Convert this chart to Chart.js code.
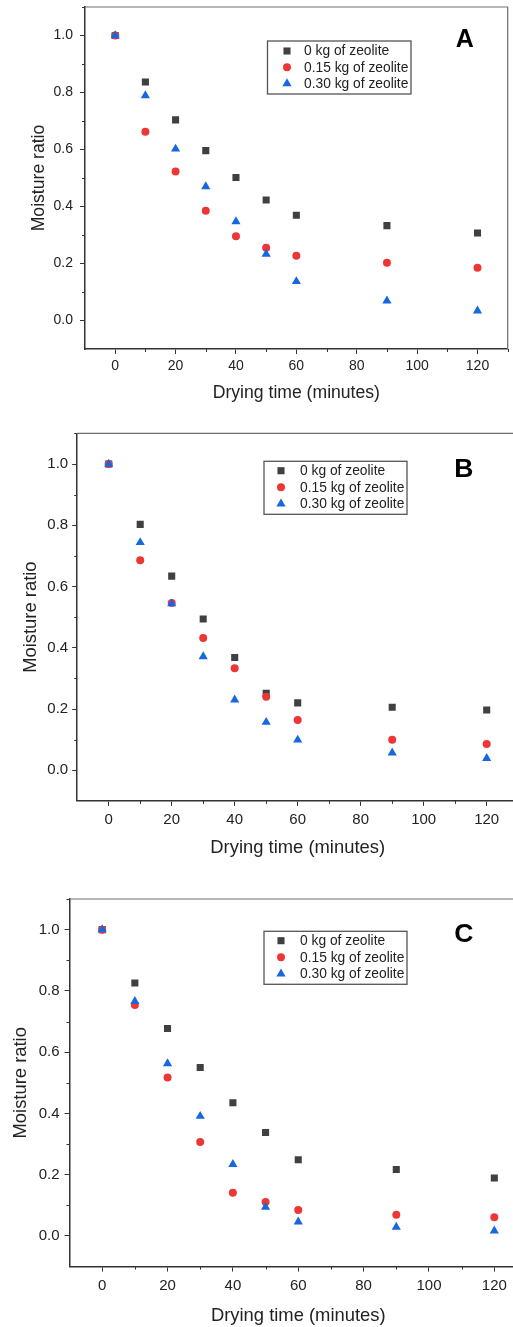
<!DOCTYPE html>
<html lang="en">
<head>
  <meta charset="UTF-8">
  <title>Moisture ratio vs drying time</title>
  <script src="https://cdn.jsdelivr.net/npm/chart.js"></script>
  <style>
    body {
      margin: 0;
      width: 513px;
      height: 1327px;
      overflow: hidden;
      position: relative;
      background: #fff;
    }
    canvas {
      position: absolute;
      left: 0;
    }
  </style>
</head>
<body>

  <canvas id="chartA"></canvas>
  <canvas id="chartB"></canvas>
  <canvas id="chartC"></canvas>

  <script>
    // drying time (minutes)
    const times = [0, 10, 20, 30, 40, 50, 60, 90, 120];
    const seriesLabels = ["0 kg of zeolite", "0.15 kg of zeolite", "0.30 kg of zeolite"];
    const panelLetters = ["A", "B", "C"];

    // moisture ratio
    const aZero = [1.0, 0.837, 0.704, 0.596, 0.502, 0.423, 0.369, 0.333, 0.307];
    const aLow  = [1.0, 0.662, 0.523, 0.385, 0.296, 0.255, 0.227, 0.203, 0.185];
    const aHigh = [1.0, 0.789, 0.602, 0.470, 0.347, 0.233, 0.137, 0.069, 0.034];

    const bZero = [1.0, 0.803, 0.634, 0.494, 0.368, 0.251, 0.220, 0.206, 0.197];
    const bLow  = [1.0, 0.686, 0.546, 0.432, 0.333, 0.240, 0.164, 0.100, 0.086];
    const bHigh = [1.0, 0.744, 0.544, 0.371, 0.230, 0.157, 0.099, 0.057, 0.039];

    const cZero = [1.0, 0.826, 0.677, 0.550, 0.435, 0.338, 0.249, 0.217, 0.189];
    const cLow  = [1.0, 0.754, 0.517, 0.307, 0.141, 0.111, 0.085, 0.069, 0.061];
    const cHigh = [1.0, 0.766, 0.563, 0.391, 0.234, 0.094, 0.046, 0.029, 0.017];

    const xTicks = [0, 20, 40, 60, 80, 100, 120];
    const yTicks = [0.0, 0.2, 0.4, 0.6, 0.8, 1.0];

    const FONT = "'Liberation Sans', Arial, sans-serif";
    const markers = [
      { style: "rect", radius: 5, color: "#404040" },
      { style: "circle", radius: 4, color: "#ef3636" },
      { style: "triangle", radius: 5.3, color: "#1767df" }
    ];

    // box, legend and letter placement per panel (canvas pixels)
    const panels = [
      { id: "chartA", top: 0, w: 513, h: 420, padTop: 7, padRight: 3, yW: 85, xH: 71,
        tickSize: 14, titleSize: 17.6, yTitlePad: 28.5, xTitlePad: 16.5, yTickPad: 7, xTickPad: 4,
        legend: { x: 267.5, y: 41, w: 143.5, h: 53, mx: 287, tx: 304, row0: 51, gap: 16.3 },
        letter: { x: 464.7, y: 46.7, size: 25 },
        series: [aZero, aLow, aHigh] },
      { id: "chartB", top: 424, w: 530, h: 451, padTop: 9.4, padRight: 11.8, yW: 77.2, xH: 74.1,
        tickSize: 15, titleSize: 18.4, yTitlePad: 19.7, xTitlePad: 16, yTickPad: 4, xTickPad: 5,
        legend: { x: 264, y: 37.3, w: 143, h: 53, mx: 281, tx: 300, row0: 46.7, gap: 16.6 },
        letter: { x: 463.8, y: 53, size: 26.5 },
        series: [bZero, bLow, bHigh] },
      { id: "chartC", top: 875, w: 540, h: 452, padTop: 24, padRight: 13, yW: 69.5, xH: 60.4,
        tickSize: 15, titleSize: 18.4, yTitlePad: 10, xTitlePad: 0, yTickPad: 5, xTickPad: 5,
        legend: { x: 264, y: 56.3, w: 143, h: 53, mx: 281, tx: 300, row0: 65.7, gap: 16.6 },
        letter: { x: 463.8, y: 67.3, size: 26.5 },
        series: [cZero, cLow, cHigh] }
    ];

    // top/right frame, minor ticks, boxed legend and panel letter
    const decor = {
      id: "decor",
      afterDraw(chart, args, opts) {
        const ctx = chart.ctx;
        const a = chart.chartArea;
        const xs = chart.scales.x, ys = chart.scales.y;
        ctx.save();

        ctx.strokeStyle = "#6e6e6e";
        ctx.lineWidth = 1.2;
        ctx.beginPath();
        ctx.moveTo(a.left, a.top);
        ctx.lineTo(a.right, a.top);
        ctx.lineTo(a.right, a.bottom);
        ctx.stroke();

        ctx.strokeStyle = "#333";
        ctx.lineWidth = 1;
        ctx.beginPath();
        for (let v = 10; v <= 130; v += 20) {
          const px = Math.round(xs.getPixelForValue(v)) + 0.5;
          ctx.moveTo(px, a.bottom);
          ctx.lineTo(px, a.bottom + 3);
        }
        for (let k = 1; k <= 11; k += 2) {
          const py = Math.round(ys.getPixelForValue(k / 10)) + 0.5;
          ctx.moveTo(a.left, py);
          ctx.lineTo(a.left - 3, py);
        }
        ctx.stroke();

        const lg = opts.legend;
        ctx.strokeStyle = "#555";
        ctx.lineWidth = 1.3;
        ctx.strokeRect(lg.x, lg.y, lg.w, lg.h);
        ctx.font = "13.8px " + FONT;
        ctx.textBaseline = "middle";
        ctx.textAlign = "left";
        chart.data.datasets.forEach((ds, i) => {
          const y = lg.row0 + i * lg.gap;
          ctx.fillStyle = ds.backgroundColor;
          Chart.helpers.drawPoint(ctx, { pointStyle: ds.pointStyle, radius: ds.pointRadius, rotation: 0, borderWidth: 0 }, lg.mx, y);
          ctx.fillStyle = "#222";
          ctx.fillText(ds.label, lg.tx, y + 0.5);
        });

        const lt = opts.letter;
        ctx.font = "bold " + lt.size + "px " + FONT;
        ctx.fillStyle = "#000";
        ctx.textAlign = "center";
        ctx.textBaseline = "alphabetic";
        ctx.fillText(opts.text, lt.x, lt.y);

        ctx.restore();
      }
    };

    panels.forEach((p, idx) => {
      const canvas = document.getElementById(p.id);
      canvas.width = p.w;
      canvas.height = p.h;
      canvas.style.top = p.top + "px";

      const datasets = p.series.map((vals, i) => ({
        label: seriesLabels[i],
        data: times.map((t, j) => ({ x: t, y: vals[j] })),
        pointStyle: markers[i].style,
        pointRadius: markers[i].radius,
        pointHoverRadius: markers[i].radius,
        backgroundColor: markers[i].color,
        borderWidth: 0,
        showLine: false,
        order: 3 - i
      }));

      new Chart(canvas, {
        type: "scatter",
        data: { datasets: datasets },
        options: {
          responsive: false,
          animation: false,
          layout: { padding: { top: p.padTop, right: p.padRight, left: 0, bottom: 0 } },
          plugins: {
            legend: { display: false },
            tooltip: { enabled: false },
            decor: { legend: p.legend, letter: p.letter, text: panelLetters[idx] }
          },
          scales: {
            x: {
              type: "linear",
              min: -10,
              max: 130,
              afterFit: s => {
                s.height = p.xH;
                s.paddingLeft = 0;
                s.paddingRight = 0;
              },
              afterBuildTicks: s => { s.ticks = xTicks.map(v => ({ value: v })); },
              ticks: {
                autoSkip: false,
                maxRotation: 0,
                padding: p.xTickPad,
                color: "#222",
                font: { family: FONT, size: p.tickSize },
                callback: v => String(v)
              },
              grid: { drawOnChartArea: false, tickLength: 5, tickColor: "#333", lineWidth: 1 },
              border: { color: "#333", width: 1.5 },
              title: {
                display: true,
                text: "Drying time (minutes)",
                color: "#222",
                font: { family: FONT, size: p.titleSize },
                padding: { top: 0, bottom: p.xTitlePad }
              }
            },
            y: {
              type: "linear",
              min: -0.1,
              max: 1.1,
              afterFit: s => {
                s.width = p.yW;
                s.paddingTop = 0;
                s.paddingBottom = 0;
              },
              afterBuildTicks: s => { s.ticks = yTicks.map(v => ({ value: v })); },
              ticks: {
                padding: p.yTickPad,
                color: "#222",
                font: { family: FONT, size: p.tickSize },
                callback: v => Number(v).toFixed(1)
              },
              grid: { drawOnChartArea: false, tickLength: 5, tickColor: "#333", lineWidth: 1 },
              border: { color: "#333", width: 1.5 },
              title: {
                display: true,
                text: "Moisture ratio",
                color: "#222",
                font: { family: FONT, size: p.titleSize },
                padding: { top: p.yTitlePad, bottom: 0 }
              }
            }
          }
        },
        plugins: [decor]
      });
    });
  </script>

</body>
</html>
